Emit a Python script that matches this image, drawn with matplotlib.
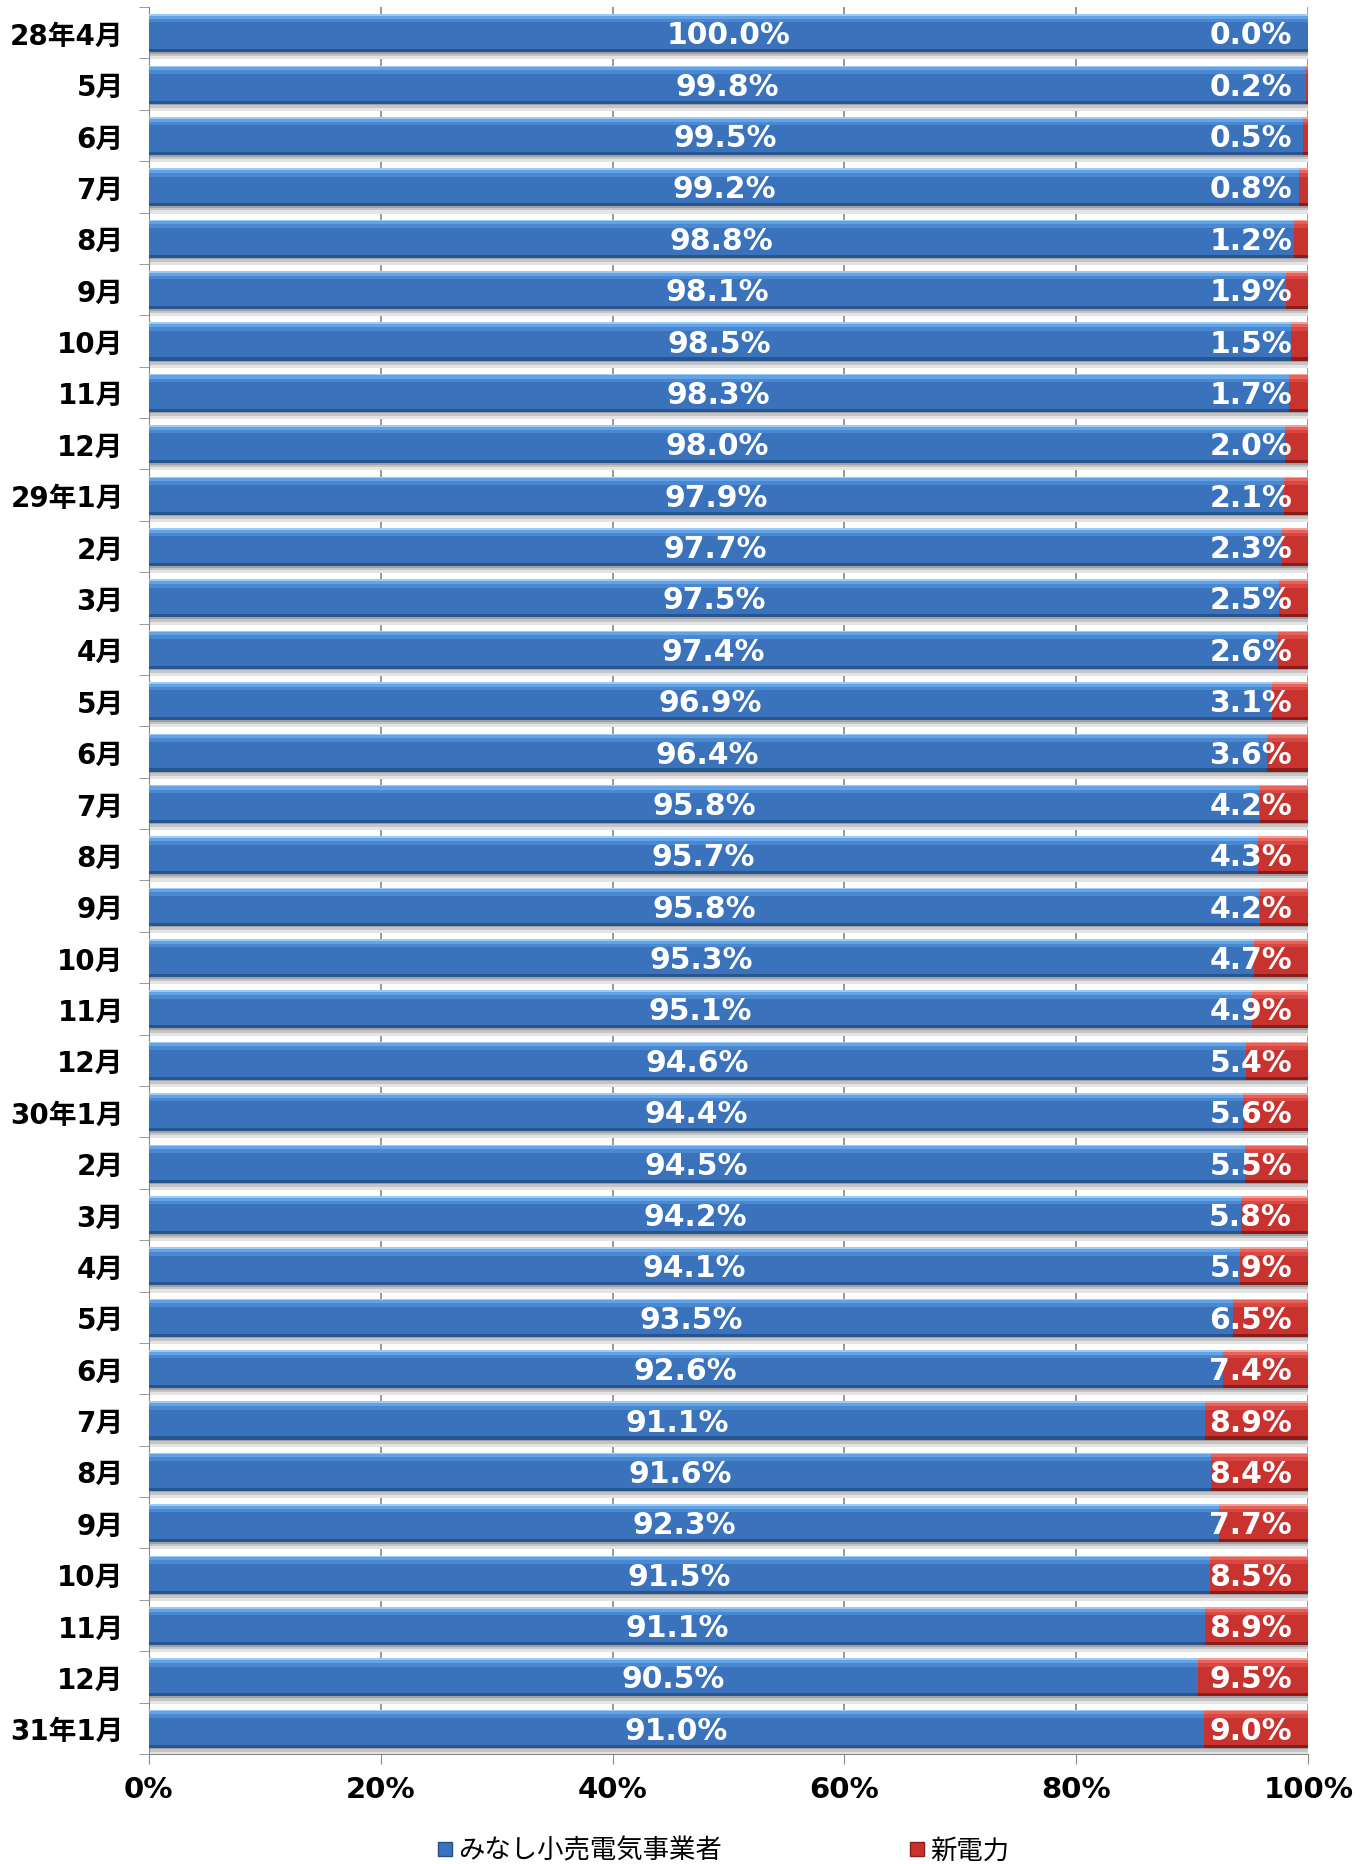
import matplotlib
matplotlib.use("Agg")
import matplotlib.pyplot as plt
from matplotlib.lines import Line2D
import numpy as np

months = ["28年4月", "5月", "6月", "7月", "8月", "9月", "10月", "11月", "12月",
          "29年1月", "2月", "3月", "4月", "5月", "6月", "7月", "8月", "9月", "10月", "11月", "12月",
          "30年1月", "2月", "3月", "4月", "5月", "6月", "7月", "8月", "9月", "10月", "11月", "12月",
          "31年1月"]
minashi = [100.0, 99.8, 99.5, 99.2, 98.8, 98.1, 98.5, 98.3, 98.0, 97.9, 97.7, 97.5, 97.4,
           96.9, 96.4, 95.8, 95.7, 95.8, 95.3, 95.1, 94.6, 94.4, 94.5, 94.2, 94.1, 93.5,
           92.6, 91.1, 91.6, 92.3, 91.5, 91.1, 90.5, 91.0]
shindenryoku = [0.0, 0.2, 0.5, 0.8, 1.2, 1.9, 1.5, 1.7, 2.0, 2.1, 2.3, 2.5, 2.6, 3.1, 3.6,
                4.2, 4.3, 4.2, 4.7, 4.9, 5.4, 5.6, 5.5, 5.8, 5.9, 6.5, 7.4, 8.9, 8.4, 7.7,
                8.5, 8.9, 9.5, 9.0]
series_names = ["みなし小売電気事業者", "新電力"]
xticks = [0, 20, 40, 60, 80, 100]
xticklabels = ["0%", "20%", "40%", "60%", "80%", "100%"]

CJK = ["DejaVu Sans", "Noto Sans CJK JP"]

fig = plt.figure(figsize=(13.7, 18.65), dpi=100)
ax = fig.add_axes([0.1085, 0.059, 0.8465, 0.9367])

n = len(months)
y = np.arange(n)
blue = np.array(minashi)
red = np.array(shindenryoku)
H = 0.74
yc = y + 0.01

# shadow under bars (fading gray)
ax.barh(yc + H / 2 + 0.08, [100] * n, height=0.12, left=0, color="#e4e4e4", zorder=1, linewidth=0)
ax.barh(yc + H / 2 + 0.04, [100] * n, height=0.08, left=0, color="#c4c4c4", zorder=1, linewidth=0)
ax.barh(yc + H / 2 + 0.015, [100] * n, height=0.03, left=0, color="#a0a0a0", zorder=1, linewidth=0)

def bevel_bar(widths, lefts, main, top, light, mid, dark):
    ax.barh(yc, widths, height=H, left=lefts, color=main, zorder=3, linewidth=0)
    ax.barh(yc - H / 2 + 0.11, widths, height=0.10, left=lefts, color=mid, zorder=4, linewidth=0)
    ax.barh(yc - H / 2 + 0.05, widths, height=0.08, left=lefts, color=light, zorder=4, linewidth=0)
    ax.barh(yc - H / 2 + 0.015, widths, height=0.03, left=lefts, color=top, zorder=4, linewidth=0)
    ax.barh(yc + H / 2 - 0.03, widths, height=0.06, left=lefts, color=dark, zorder=4, linewidth=0)

bevel_bar(blue, 0, "#3a72bb", "#9ccaf4", "#62a2e6", "#4c88d0", "#27558f")
bevel_bar(red, blue, "#c8332f", "#f2a09a", "#e8625b", "#d84842", "#8c1c19")

for i in range(n):
    ax.text(blue[i] / 2, yc[i] + 0.03, f"{blue[i]:.1f}%", ha="center", va="center",
            color="white", fontsize=21.5, fontweight="bold", family="DejaVu Sans", zorder=6)
    ax.text(98.6, yc[i] + 0.03, f"{red[i]:.1f}%", ha="right", va="center",
            color="white", fontsize=21.5, fontweight="bold", family="DejaVu Sans", zorder=6)

ax.set_xlim(0, 100)
ax.set_ylim(n - 0.5, -0.5)
ax.set_xticks(xticks)
ax.set_xticklabels(xticklabels, fontsize=21, fontweight="bold", family="DejaVu Sans")
ax.tick_params(axis="x", length=7, color="#888888", pad=8)
ax.set_yticks(y)
ax.set_yticklabels(months)
for lab in ax.get_yticklabels():
    lab.set_family(CJK)
    lab.set_fontsize(20)
    lab.set_fontweight("bold")
ax.tick_params(axis="y", length=0, pad=18)
ax.set_yticks(np.arange(n + 1) - 0.5, minor=True)
ax.tick_params(axis="y", which="minor", length=7, color="#888888")
ax.grid(axis="x", color="#888888", linewidth=1.2, zorder=0)
ax.set_axisbelow(True)
for s in ["top", "right"]:
    ax.spines[s].set_visible(False)
ax.spines["left"].set_color("#888888")
ax.spines["bottom"].set_color("#888888")

handles = [Line2D([], [], marker="s", linestyle="none", markersize=10,
                  markerfacecolor="#3a73bd", markeredgecolor="#244f88"),
           Line2D([], [], marker="s", linestyle="none", markersize=10,
                  markerfacecolor="#c8332f", markeredgecolor="#8c1c19")]
fig.legend(handles, series_names, loc="center", bbox_to_anchor=(0.527, 0.007), ncol=2,
           frameon=False, prop={"family": CJK, "size": 19}, columnspacing=7,
           handletextpad=0.1, handlelength=0.8)

fig.savefig("out.png", dpi=100)
